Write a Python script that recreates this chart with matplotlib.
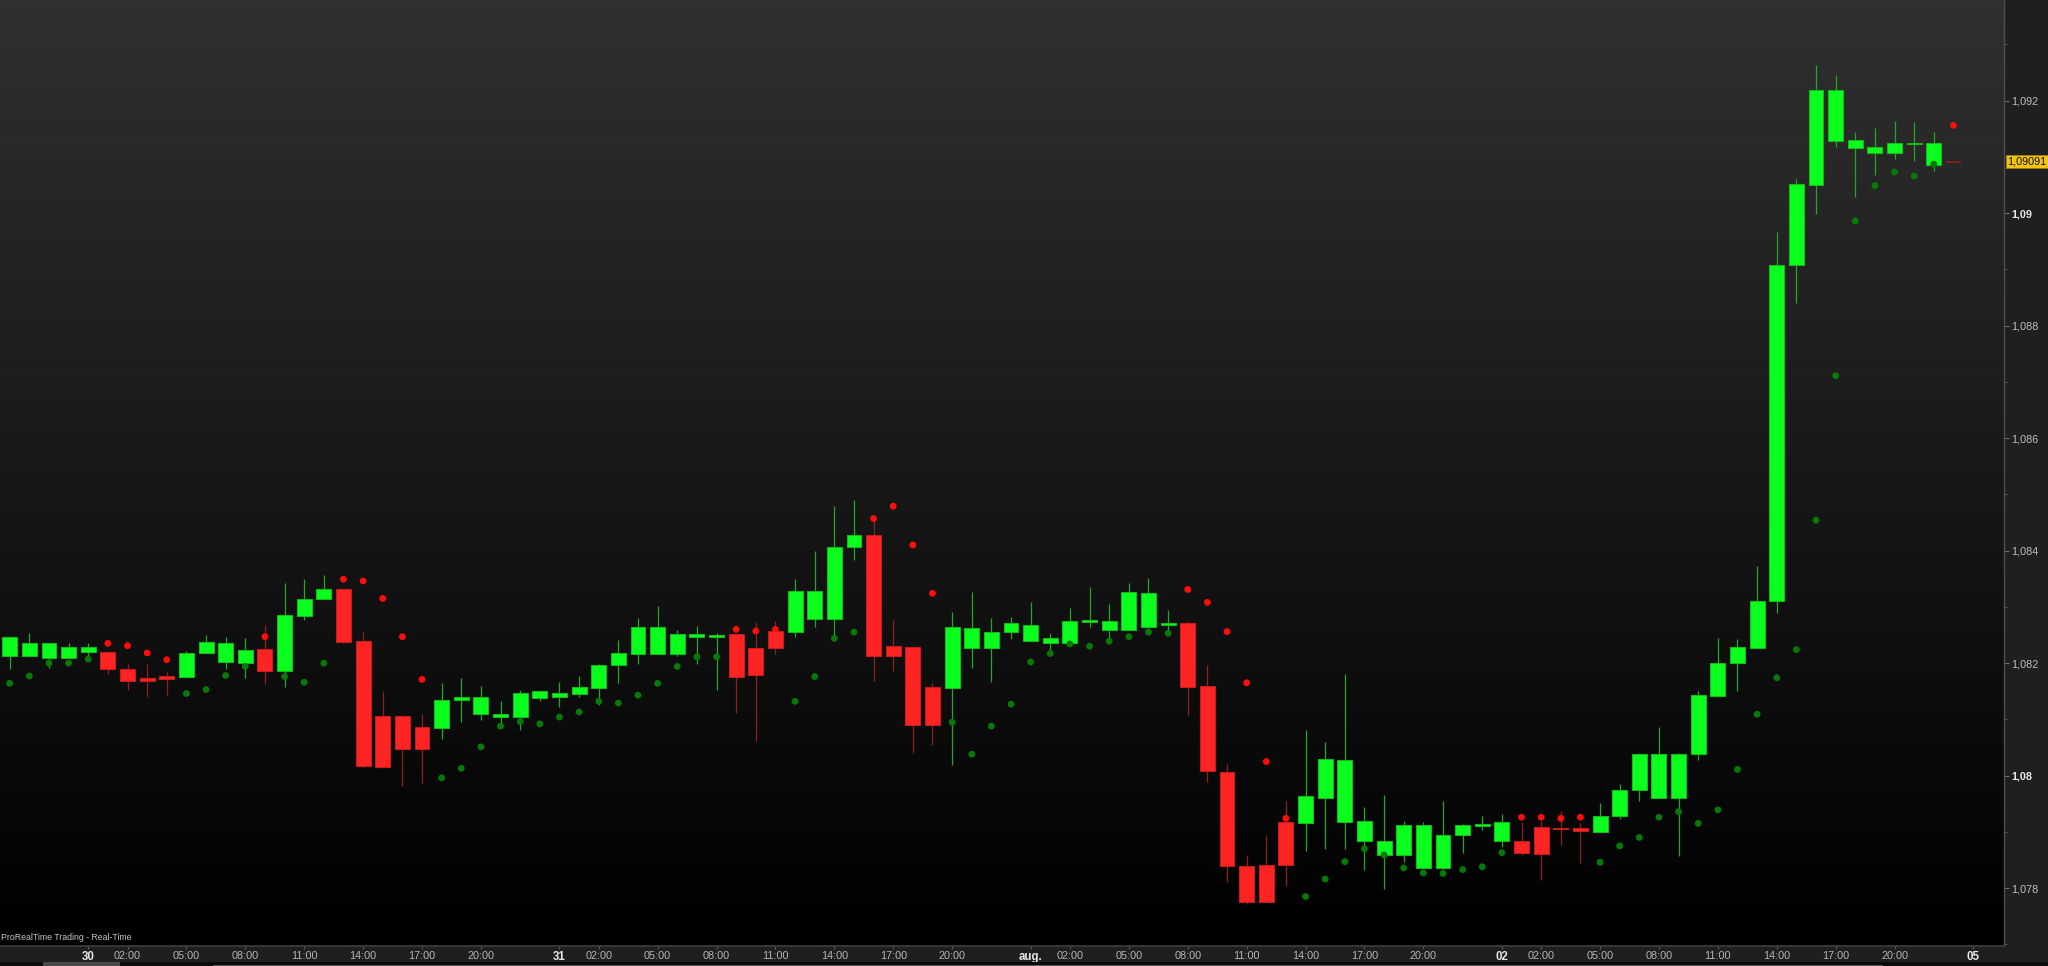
import numpy as np
import matplotlib
matplotlib.use("Agg")
import matplotlib.pyplot as plt
from matplotlib.patches import Rectangle
from matplotlib.transforms import blended_transform_factory
from matplotlib.colors import LinearSegmentedColormap

plt.rcParams['font.family'] = ['Liberation Sans', 'DejaVu Sans']

# ---------------- data (hourly candles, Jul 29 20:00 -> Aug 2 23:00) ----------------
opens = [1.08213, 1.08213, 1.08209, 1.08209, 1.08220, 1.08220, 1.08190, 1.08173, 1.08177, 1.08176,
         1.08218, 1.08202, 1.08200, 1.08225, 1.08186, 1.08284, 1.08314, 1.08331, 1.08239, 1.08106,
         1.08106, 1.08086, 1.08085, 1.08135, 1.08109, 1.08104, 1.08105, 1.08138, 1.08139, 1.08145,
         1.08155, 1.08196, 1.08217, 1.08217, 1.08217, 1.08247, 1.08247, 1.08251, 1.08226, 1.08257,
         1.08255, 1.08278, 1.08278, 1.08406, 1.08427, 1.08230, 1.08229, 1.08157, 1.08155, 1.08226,
         1.08226, 1.08255, 1.08240, 1.08236, 1.08236, 1.08274, 1.08259, 1.08259, 1.08265, 1.08268,
         1.08271, 1.08159, 1.08007, 1.07840, 1.07841, 1.07917, 1.07916, 1.07961, 1.07918, 1.07883,
         1.07859, 1.07859, 1.07835, 1.07835, 1.07894, 1.07912, 1.07883, 1.07883, 1.07908, 1.07907,
         1.07907, 1.07900, 1.07929, 1.07974, 1.07960, 1.07960, 1.08038, 1.08142, 1.08200, 1.08227,
         1.08311, 1.08907, 1.09050, 1.09129, 1.09116, 1.09107, 1.09106, 1.09123, 1.09086, 1.09091]
highs = [1.08249, 1.08254, 1.08235, 1.08235, 1.08235, 1.08220, 1.08198, 1.08198, 1.08184, 1.08221,
         1.08250, 1.08246, 1.08244, 1.08268, 1.08343, 1.08349, 1.08356, 1.08331, 1.08256, 1.08150,
         1.08106, 1.08109, 1.08164, 1.08174, 1.08159, 1.08132, 1.08152, 1.08150, 1.08166, 1.08177,
         1.08199, 1.08241, 1.08280, 1.08301, 1.08258, 1.08266, 1.08253, 1.08251, 1.08273, 1.08275,
         1.08350, 1.08400, 1.08480, 1.08490, 1.08457, 1.08277, 1.08229, 1.08165, 1.08291, 1.08326,
         1.08280, 1.08282, 1.08309, 1.08253, 1.08298, 1.08336, 1.08305, 1.08343, 1.08352, 1.08295,
         1.08275, 1.08197, 1.08020, 1.07859, 1.07894, 1.07955, 1.08081, 1.08059, 1.08181, 1.07945,
         1.07965, 1.07920, 1.07917, 1.07955, 1.07914, 1.07928, 1.07931, 1.07917, 1.07920, 1.07937,
         1.07915, 1.07951, 1.07985, 1.08041, 1.08086, 1.08041, 1.08150, 1.08245, 1.08243, 1.08372,
         1.08966, 1.09060, 1.09264, 1.09245, 1.09145, 1.09151, 1.09164, 1.09162, 1.09145, 1.09091]
lows = [1.08190, 1.08213, 1.08192, 1.08209, 1.08212, 1.08180, 1.08152, 1.08139, 1.08143, 1.08173,
        1.08218, 1.08189, 1.08173, 1.08162, 1.08158, 1.08276, 1.08314, 1.08235, 1.08014, 1.08014,
        1.07981, 1.07987, 1.08065, 1.08095, 1.08099, 1.08089, 1.08081, 1.08132, 1.08122, 1.08139,
        1.08125, 1.08164, 1.08199, 1.08217, 1.08213, 1.08199, 1.08153, 1.08112, 1.08061, 1.08217,
        1.08247, 1.08265, 1.08244, 1.08384, 1.08169, 1.08186, 1.08041, 1.08054, 1.08018, 1.08191,
        1.08166, 1.08243, 1.08239, 1.08221, 1.08236, 1.08265, 1.08242, 1.08259, 1.08262, 1.08253,
        1.08108, 1.07988, 1.07811, 1.07771, 1.07776, 1.07804, 1.07866, 1.07869, 1.07870, 1.07833,
        1.07799, 1.07846, 1.07835, 1.07832, 1.07862, 1.07903, 1.07873, 1.07858, 1.07815, 1.07876,
        1.07844, 1.07900, 1.07922, 1.07954, 1.07960, 1.07857, 1.08028, 1.08142, 1.08151, 1.08227,
        1.08289, 1.08840, 1.08998, 1.09117, 1.09029, 1.09067, 1.09096, 1.09093, 1.09074, 1.09091]
closes = [1.08247, 1.08235, 1.08235, 1.08229, 1.08229, 1.08189, 1.08168, 1.08168, 1.08172, 1.08218,
          1.08237, 1.08236, 1.08223, 1.08186, 1.08285, 1.08314, 1.08331, 1.08238, 1.08017, 1.08015,
          1.08048, 1.08048, 1.08135, 1.08140, 1.08140, 1.08110, 1.08147, 1.08150, 1.08147, 1.08157,
          1.08197, 1.08218, 1.08265, 1.08264, 1.08252, 1.08252, 1.08250, 1.08176, 1.08178, 1.08227,
          1.08328, 1.08328, 1.08407, 1.08427, 1.08212, 1.08212, 1.08090, 1.08090, 1.08264, 1.08262,
          1.08255, 1.08271, 1.08268, 1.08245, 1.08275, 1.08275, 1.08275, 1.08326, 1.08324, 1.08271,
          1.08158, 1.08008, 1.07840, 1.07776, 1.07776, 1.07841, 1.07963, 1.08029, 1.08027, 1.07920,
          1.07883, 1.07912, 1.07912, 1.07894, 1.07912, 1.07913, 1.07918, 1.07862, 1.07860, 1.07905,
          1.07901, 1.07928, 1.07975, 1.08039, 1.08039, 1.08039, 1.08143, 1.08201, 1.08228, 1.08310,
          1.08908, 1.09051, 1.09219, 1.09219, 1.09130, 1.09117, 1.09125, 1.09124, 1.09124, 1.09091]
sar = [1.08164, 1.08177, 1.08200, 1.08200, 1.08207, 1.08235, 1.08231, 1.08218, 1.08206, 1.08146,
       1.08153, 1.08178, 1.08194, 1.08247, 1.08176, 1.08166, 1.08200, 1.08349, 1.08346, 1.08315,
       1.08247, 1.08171, 1.07996, 1.08013, 1.08051, 1.08088, 1.08096, 1.08092, 1.08104, 1.08113,
       1.08132, 1.08129, 1.08143, 1.08164, 1.08194, 1.08211, 1.08211, 1.08260, 1.08257, 1.08260,
       1.08132, 1.08176, 1.08244, 1.08255, 1.08457, 1.08479, 1.08410, 1.08324, 1.08095, 1.08038,
       1.08088, 1.08127, 1.08202, 1.08217, 1.08234, 1.08230, 1.08239, 1.08247, 1.08255, 1.08253,
       1.08331, 1.08308, 1.08256, 1.08165, 1.08025, 1.07924, 1.07785, 1.07816, 1.07847, 1.07870,
       1.07859, 1.07836, 1.07827, 1.07826, 1.07833, 1.07838, 1.07863, 1.07926, 1.07926, 1.07924,
       1.07926, 1.07846, 1.07875, 1.07890, 1.07926, 1.07936, 1.07915, 1.07939, 1.08011, 1.08109,
       1.08174, 1.08224, 1.08454, 1.08711, 1.08986, 1.09049, 1.09073, 1.09066, 1.09087, 1.09156]

last_price = 1.09091
last_price_label = "1,09091"

price_ticks = [1.078, 1.080, 1.082, 1.084, 1.086, 1.088, 1.090, 1.092]
price_tick_labels = ["1,078", "1,08", "1,082", "1,084", "1,086", "1,088", "1,09", "1,092"]

day_labels = ["30", "31", "aug.", "02", "05"]
hour_labels = ["02:00", "05:00", "08:00", "11:00", "14:00", "17:00", "20:00"]
first_hour_offset = 4   # candle index of Jul 30 00:00

# ---------------- figure ----------------
W, H = 2048, 966
fig = plt.figure(figsize=(W / 100, H / 100), dpi=100)
fig.patch.set_facecolor('#1f1f1f')

plot_right = 2004
plot_bottom = 945.7
ax = fig.add_axes([0, (H - plot_bottom) / H, plot_right / W, plot_bottom / H])

o = np.array(opens); h = np.array(highs); l = np.array(lows); c = np.array(closes)
s = np.array(sar)
n = len(o)
x = np.arange(n)

px_per_unit = 112.5 / 0.002
ymax = 1.092 + 100.6 / px_per_unit
ymin = 1.092 - (plot_bottom - 100.6) / px_per_unit
spacing = 19.634
x0 = 9.7
xmin = -x0 / spacing
xmax = (plot_right - x0) / spacing
ax.set_xlim(xmin, xmax)
ax.set_ylim(ymin, ymax)

# background gradient
grad = np.linspace(1, 0, 256).reshape(-1, 1)
cmap = LinearSegmentedColormap.from_list('bg', ['#000000', '#303030'])
ax.imshow(grad, aspect='auto', cmap=cmap, extent=[xmin, xmax, ymin, ymax],
          origin='upper', zorder=0, vmin=0, vmax=1, interpolation='bilinear')

# candles
down = s > c
body_col = np.where(down, '#ff2424', '#0aff1e')
edge_col = np.where(down, '#c81c1c', '#18b818')
wick_col = np.where(down, '#8e2020', '#26a626')

ax.vlines(x, l, h, colors=wick_col, linewidth=0.9, zorder=2)
top = np.maximum(o, c)
bot = np.minimum(o, c)
minh = 1.6 / px_per_unit
hgt = np.maximum(top - bot, minh)
flat = (h - l) == 0
bw = 0.76
for i in range(n):
    if flat[i]:
        ax.hlines(c[i], x[i] - bw / 2, x[i] + bw / 2, colors=wick_col[i], linewidth=1.2, zorder=3)
    else:
        ax.bar(x[i], hgt[i], bottom=bot[i] - (hgt[i] - (top[i] - bot[i])) / 2, width=bw,
               color=body_col[i], edgecolor=edge_col[i], linewidth=0.8, zorder=3)

# parabolic SAR dots
sar_col = np.where(down, '#ff0c0c', '#067a06')
ax.scatter(x, s, s=24, c=sar_col, edgecolors='none', zorder=4)

# ---------------- axes styling ----------------
for side in ['top', 'left']:
    ax.spines[side].set_visible(False)
ax.spines['right'].set_color('#4e4e4e')
ax.spines['right'].set_linewidth(1.0)
ax.spines['bottom'].set_color('#3e3e3e')
ax.spines['bottom'].set_linewidth(1.2)

ax.yaxis.tick_right()
ax.set_yticks(price_ticks)
ax.set_yticklabels(price_tick_labels)
minor = [1.077 + 0.002 * k for k in range(9)]
ax.set_yticks(minor, minor=True)
ax.tick_params(axis='y', which='major', length=3.5, width=0.8, color='#6a6a6a',
               labelsize=7.8, labelcolor='#bdbdbd', pad=2)
ax.tick_params(axis='y', which='minor', length=2.5, width=0.8, color='#555555')
for lab in ax.get_yticklabels():
    if lab.get_text() in ("1,08", "1,09"):
        lab.set_fontweight('bold')
        lab.set_color('#e8e8e8')

xt, xl, bold = [], [], []
for d, dl in enumerate(day_labels):
    base = first_hour_offset + 24 * d
    xt.append(base); xl.append(dl); bold.append(True)
    if d < len(day_labels) - 1:
        for hl in hour_labels:
            hh = int(hl[:2])
            xt.append(base + hh); xl.append(hl); bold.append(False)
ax.set_xticks(xt)
ax.set_xticklabels(xl)
ax.tick_params(axis='x', which='major', length=2.5, width=0.8, color='#5a5a5a',
               labelsize=7.8, labelcolor='#b4b4b4', pad=1)
for lab, b in zip(ax.get_xticklabels(), bold):
    if b:
        lab.set_fontweight('bold')
        lab.set_color('#e6e6e6')
        lab.set_fontsize(8.3)

# current price marker
trans = blended_transform_factory(ax.transAxes, ax.transData)
ax.text(1.0016, last_price, last_price_label, transform=trans, ha='left', va='center',
        fontsize=7.8, color='#111111', zorder=10, clip_on=False,
        bbox=dict(boxstyle='square,pad=0.14', fc='#f2c414', ec='#9a8010', lw=0.6))

# footer text
ax.text(0.0006, 0.004, "ProRealTime Trading - Real-Time", transform=ax.transAxes,
        ha='left', va='bottom', fontsize=6.3, color='#c4c4c4', zorder=10)

# bottom scrollbar strip
fig.patches.append(Rectangle((0, 0), 1, 3.6 / H, transform=fig.transFigure,
                             facecolor='#0b0b0b', edgecolor='none', zorder=0))
fig.patches.append(Rectangle((43 / W, 0), 77 / W, 3.6 / H, transform=fig.transFigure,
                             facecolor='#4a4a4a', edgecolor='none', zorder=1))
fig.patches.append(Rectangle((213 / W, 0), 1670 / W, 1.2 / H, transform=fig.transFigure,
                             facecolor='#5a5a5a', edgecolor='none', zorder=1))

fig.savefig('out.png', dpi=100, facecolor=fig.get_facecolor())
